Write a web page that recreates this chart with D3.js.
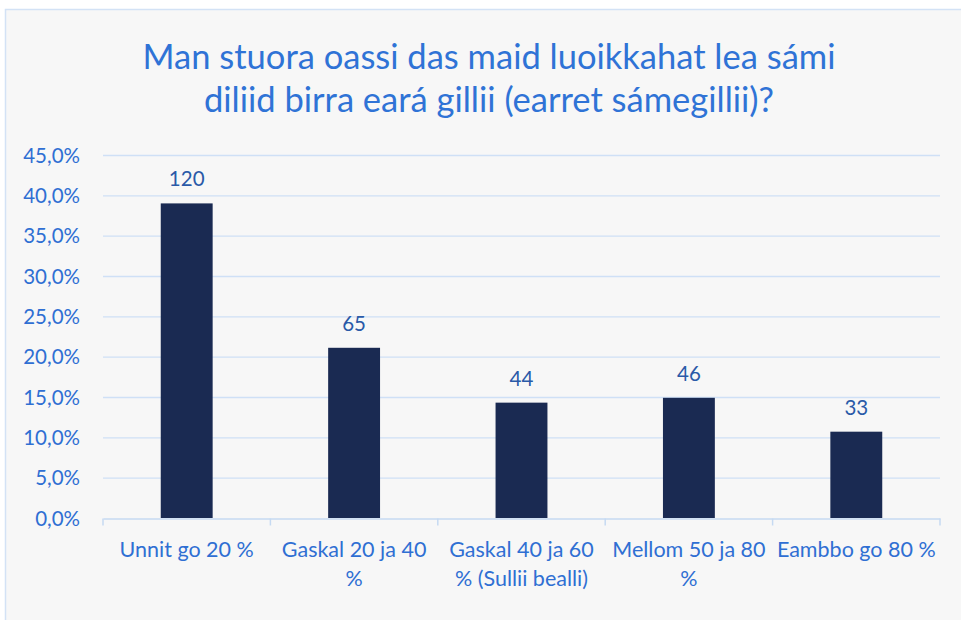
<!DOCTYPE html>
<html><head><meta charset="utf-8">
<script src="https://cdn.jsdelivr.net/npm/d3@7"></script>
<style>body{margin:0;background:#fff}svg{display:block}</style>
</head><body>
<svg id="c" width="961" height="620"></svg>
<script>
const titleLines = ["Man stuora oassi das maid luoikkahat lea sámi", "diliid birra eará gillii (earret sámegillii)?"];
const categories = ["Unnit go 20 %", "Gaskal 20 ja 40 %", "Gaskal 40 ja 60 % (Sullii bealli)", "Mellom 50 ja 80 %", "Eambbo go 80 %"];
const shares = [39.0, 21.1, 14.3, 14.9, 10.7];
const counts = [120, 65, 44, 46, 33];
const yTicks = [0, 5, 10, 15, 20, 25, 30, 35, 40, 45];

const W = 961, H = 620;
const m = {left: 103, right: 21, top: 155, bottom: 102};
const textColor = "#2f6fd3";
const font = "Lato, 'Open Sans', sans-serif";

const svg = d3.select("#c");
svg.append("rect").attr("x", 5.5).attr("y", 9.5).attr("width", W).attr("height", H)
  .attr("fill", "#f7f7f7").attr("stroke", "#d3e2f5").attr("stroke-width", 1.5);

const x = d3.scaleBand().domain(categories).range([m.left, W - m.right]).paddingInner(0.69).paddingOuter(0.345);
const xb = d3.scaleBand().domain(categories).range([m.left, W - m.right]);
const y = d3.scaleLinear().domain([0, 45]).range([H - m.bottom, m.top]);

// title
svg.append("g").selectAll("text").data(titleLines).join("text")
  .attr("x", 489).attr("y", (d, i) => 69 + i * 43)
  .attr("text-anchor", "middle").attr("fill", "#2f73d6")
  .style("font-family", font).style("font-size", "34.5px").text(d => d);

// gridlines
svg.append("g").selectAll("line").data(yTicks.filter(t => t > 0)).join("line")
  .attr("x1", m.left).attr("x2", W - m.right)
  .attr("y1", d => y(d) + 0.5).attr("y2", d => y(d) + 0.5)
  .attr("stroke", "#cfe0f6").attr("stroke-width", 1.3);

// y axis labels
const yAxis = d3.axisLeft(y).tickValues(yTicks).tickSize(0).tickPadding(0)
  .tickFormat(d => d3.format(".1f")(d).replace(".", ",") + "%");
const yg = svg.append("g").attr("transform", `translate(80,0)`).call(yAxis);
yg.select(".domain").remove();
yg.selectAll("text").attr("fill", textColor).style("font-family", font).style("font-size", "20.5px").attr("dy", "0.35em");

// bars
svg.append("g").selectAll("rect").data(categories).join("rect")
  .attr("x", d => x(d)).attr("width", x.bandwidth())
  .attr("y", (d, i) => y(shares[i])).attr("height", (d, i) => y(0) - y(shares[i]))
  .attr("fill", "#1a2a52");

// value labels
svg.append("g").selectAll("text").data(categories).join("text")
  .attr("x", d => x(d) + x.bandwidth() / 2)
  .attr("y", (d, i) => y(shares[i]) - 17)
  .attr("text-anchor", "middle").attr("fill", "#2a5aa8")
  .style("font-family", font).style("font-size", "20.5px").text((d, i) => counts[i]);

// x axis
const xAxis = d3.axisBottom(xb).tickSize(0).tickFormat("");
const xg = svg.append("g").attr("transform", `translate(0,${y(0) + 0.5})`).call(xAxis);
xg.select(".domain").attr("stroke", "#c6daf2").attr("stroke-width", 1.5);
xg.append("g").selectAll("line").data(categories.concat([null])).join("line")
  .attr("x1", (d, i) => m.left + i * xb.step()).attr("x2", (d, i) => m.left + i * xb.step())
  .attr("y1", 0).attr("y2", 7).attr("stroke", "#c6daf2").attr("stroke-width", 1.5);

// category labels with wrapping
const maxW = 166;
const lab = svg.append("g").selectAll("text").data(categories).join("text")
  .attr("x", d => xb(d) + xb.bandwidth() / 2).attr("y", 557)
  .attr("text-anchor", "middle").attr("fill", textColor)
  .style("font-family", font).style("font-size", "21.5px");
lab.each(function(d) {
  const t = d3.select(this);
  const words = d.split(" ");
  let line = [];
  let ts = t.append("tspan").attr("x", t.attr("x")).attr("dy", 0);
  for (const w of words) {
    line.push(w);
    ts.text(line.join(" "));
    if (ts.node().getComputedTextLength() > maxW && line.length > 1) {
      line.pop(); ts.text(line.join(" "));
      line = [w];
      ts = t.append("tspan").attr("x", t.attr("x")).attr("dy", 29).text(w);
    }
  }
});
</script>
</body></html>
